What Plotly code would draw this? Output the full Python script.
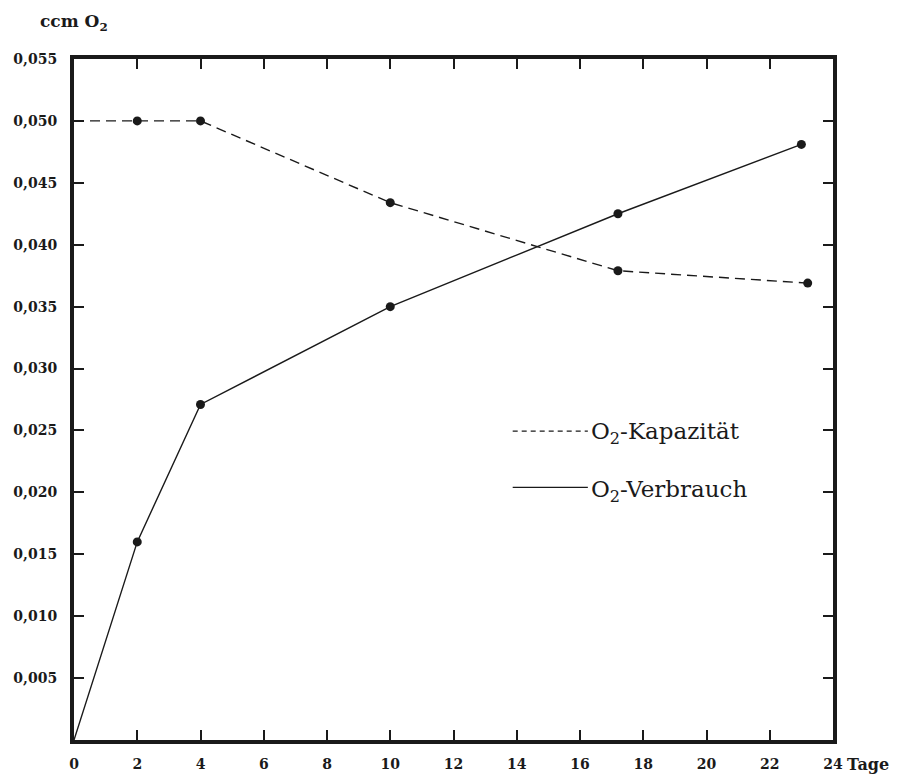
import plotly.graph_objects as go

# Data
days_kap = [0, 2, 4, 10, 17.2, 23.2]
kapazitaet = [0.0500, 0.0500, 0.0500, 0.0434, 0.0379, 0.0369]
kap_marker_days = [2, 4, 10, 17.2, 23.2]
kap_marker_vals = [0.0500, 0.0500, 0.0434, 0.0379, 0.0369]

days_verb = [0, 2, 4, 10, 17.2, 23.0]
verbrauch = [0.0000, 0.0160, 0.0271, 0.0350, 0.0425, 0.0481]
verb_marker_days = [2, 4, 10, 17.2, 23.0]
verb_marker_vals = [0.0160, 0.0271, 0.0350, 0.0425, 0.0481]

x_ticks = list(range(0, 25, 2))
x_ticktext = [str(v) for v in x_ticks]
y_ticks = [0.005, 0.010, 0.015, 0.020, 0.025, 0.030, 0.035, 0.040, 0.045, 0.050, 0.055]
y_ticktext = ["0,005", "0,010", "0,015", "0,020", "0,025", "0,030", "0,035",
              "0,040", "0,045", "0,050", "0,055"]

INK = "#1a1a1a"
FONT = "DejaVu Serif"

fig = go.Figure()

fig.add_trace(go.Scatter(
    x=days_kap, y=kapazitaet, mode="lines",
    line=dict(color=INK, width=1.4, dash="10px,6px"),
    hoverinfo="skip", showlegend=False))
fig.add_trace(go.Scatter(
    x=kap_marker_days, y=kap_marker_vals, mode="markers",
    marker=dict(color=INK, size=9, symbol="circle"),
    showlegend=False))
fig.add_trace(go.Scatter(
    x=days_verb, y=verbrauch, mode="lines",
    line=dict(color=INK, width=1.4),
    hoverinfo="skip", showlegend=False))
fig.add_trace(go.Scatter(
    x=verb_marker_days, y=verb_marker_vals, mode="markers",
    marker=dict(color=INK, size=9, symbol="circle"),
    showlegend=False))

axis_common = dict(
    showline=True, linewidth=4, linecolor=INK, mirror="ticks",
    ticks="inside", ticklen=10, tickwidth=2, tickcolor=INK,
    showgrid=False, zeroline=False, automargin=False,
    tickfont=dict(family=FONT, size=14, color=INK, weight="bold"),
)

fig.update_xaxes(range=[0, 24], tickvals=x_ticks, ticktext=x_ticktext,
                 ticklabelstandoff=8, **axis_common)
fig.update_yaxes(range=[0, 0.055], tickvals=y_ticks, ticktext=y_ticktext,
                 ticklabelstandoff=10, **axis_common)

# Legend-like labels inside plot
fig.add_shape(type="line", xref="paper", yref="paper",
              x0=0.578, x1=0.677, y0=0.4537, y1=0.4537,
              line=dict(color=INK, width=1.3, dash="5px,4px"))
fig.add_shape(type="line", xref="paper", yref="paper",
              x0=0.578, x1=0.677, y0=0.371, y1=0.371,
              line=dict(color=INK, width=1.3))
fig.add_annotation(xref="paper", yref="paper", x=0.679, y=0.451,
                   text="O<sub>2</sub>-Kapazität", showarrow=False,
                   xanchor="left", yanchor="middle",
                   font=dict(family=FONT, size=23, color=INK))
fig.add_annotation(xref="paper", yref="paper", x=0.679, y=0.366,
                   text="O<sub>2</sub>-Verbrauch", showarrow=False,
                   xanchor="left", yanchor="middle",
                   font=dict(family=FONT, size=23, color=INK))

# Axis titles
fig.add_annotation(xref="paper", yref="paper", x=-0.047, y=1.054,
                   text="ccm O<sub>2</sub>", showarrow=False,
                   xanchor="left", yanchor="middle",
                   font=dict(family=FONT, size=17, color=INK, weight="bold"))
fig.add_annotation(xref="paper", yref="paper", x=1.016, y=-0.036,
                   text="Tage", showarrow=False,
                   xanchor="left", yanchor="middle",
                   font=dict(family=FONT, size=16, color=INK, weight="bold"))

# The page body adds an 8 px margin, so the figure is sized/margined to compensate
fig.update_layout(
    width=891, height=771,
    margin=dict(l=66, r=66, t=51, b=39, autoexpand=False),
    paper_bgcolor="white", plot_bgcolor="white",
    showlegend=False,
)

fig.write_html("out.html")
